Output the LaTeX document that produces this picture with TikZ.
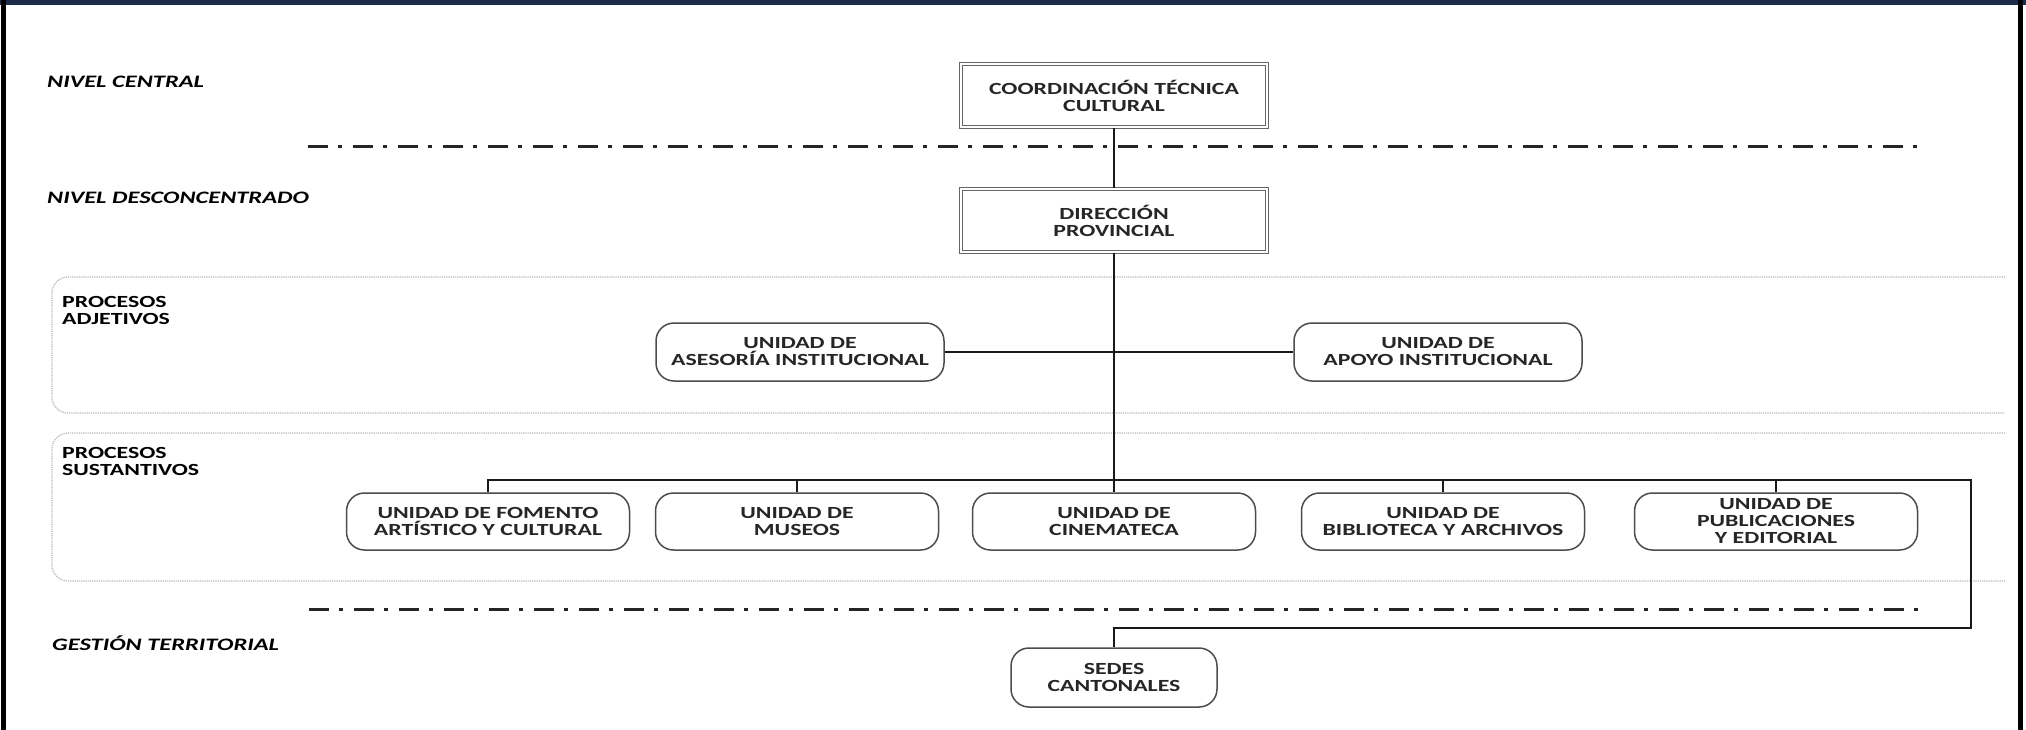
\documentclass[tikz,border=0pt]{standalone}
\usepackage{fontspec}
\setmainfont{Carlito}[FakeStretch=1.4]
\definecolor{navy}{RGB}{28,44,74}
\newcommand\boxfont{\fontsize{17}{17}\selectfont\bfseries}
\tikzset{
  unitbox/.style={draw=black!70, line width=1.5pt, rounded corners=18pt, align=center,
    minimum width=283pt, minimum height=57pt, inner sep=0pt, font=\boxfont, text=black!85},
  topbox/.style={draw=black!60, line width=1.1pt, double=white, double distance=1.2pt,
    minimum width=306pt, minimum height=63pt, inner sep=0pt, align=center, font=\boxfont, text=black!85},
  lvl/.style={anchor=west, inner sep=0pt, font=\fontsize{17.5}{18}\selectfont\bfseries\itshape},
  proc/.style={anchor=west, inner sep=0pt, align=left, font=\boxfont},
  conn/.style={line width=2.8pt, black!90},
  sepline/.style={line width=3pt, black!85, dash pattern=on 20pt off 10pt on 4pt off 11pt},
  region/.style={densely dotted, gray!55, line width=1.2pt, rounded corners=16pt}
}
\begin{document}
\begin{tikzpicture}[x=1pt,y=-1pt]
\useasboundingbox (0,0) rectangle (2026,730);
\fill[white] (0,0) rectangle (2026,730);
\fill[navy] (0,0) rectangle (2026,5);
\fill[black] (1,0) rectangle (6,730);
\fill[black] (2018,0) rectangle (2023,730);

% process regions
\draw[region] (2005,277) -- (52,277) -- (52,413) -- (2005,413);
\draw[region] (2005,433) -- (52,433) -- (52,581) -- (2005,581);

% level separators
\draw[sepline] (308,147) -- (1918,147);
\draw[sepline] (309,609) -- (1920,609);

% level labels
\node[lvl] (lc) at (47,82) {NIVEL CENTRAL};
\node[lvl] (ld) at (47,198) {NIVEL DESCONCENTRADO};
\node[lvl] (lg) at (52,643) {GESTIÓN TERRITORIAL};
\node[proc] (pa) at (62,310) {PROCESOS\\ADJETIVOS};
\node[proc] (ps) at (62,461.5) {PROCESOS\\SUSTANTIVOS};

% boxes
\node[topbox] (coord) at (1114,95.5) {COORDINACIÓN TÉCNICA\\CULTURAL};
\node[topbox] (dir) at (1114,220.5) {DIRECCIÓN\\PROVINCIAL};
\node[unitbox, minimum width=288pt, minimum height=58pt] (ases) at (800,352) {UNIDAD DE\\ASESORÍA INSTITUCIONAL};
\node[unitbox, minimum width=288pt, minimum height=58pt] (apoyo) at (1438,352) {UNIDAD DE\\APOYO INSTITUCIONAL};
\node[unitbox] (fom) at (488,521.5) {UNIDAD DE FOMENTO\\ARTÍSTICO Y CULTURAL};
\node[unitbox] (mus) at (797,521.5) {UNIDAD DE\\MUSEOS};
\node[unitbox] (cine) at (1114,521.5) {UNIDAD DE\\CINEMATECA};
\node[unitbox] (bib) at (1443,521.5) {UNIDAD DE\\BIBLIOTECA Y ARCHIVOS};
\node[unitbox] (pub) at (1776,521.5) {UNIDAD DE\\PUBLICACIONES\\Y EDITORIAL};
\node[unitbox, minimum width=206pt, minimum height=59pt] (sedes) at (1114,677.5) {SEDES\\CANTONALES};

% connectors
\coordinate (busR) at (1971,480);
\coordinate (cr) at (1971,628);
\draw[conn] (coord) -- (dir);
\draw[conn] (dir) -- (cine);
\draw[conn] (ases) -- (apoyo);
\draw[conn] (fom.north) |- (busR) -- (cr) -| (sedes.north);
\draw[conn] (mus.north) -- (mus.north |- busR);
\draw[conn] (bib.north) -- (bib.north |- busR);
\draw[conn] (pub.north) -- (pub.north |- busR);
\end{tikzpicture}
\end{document}
